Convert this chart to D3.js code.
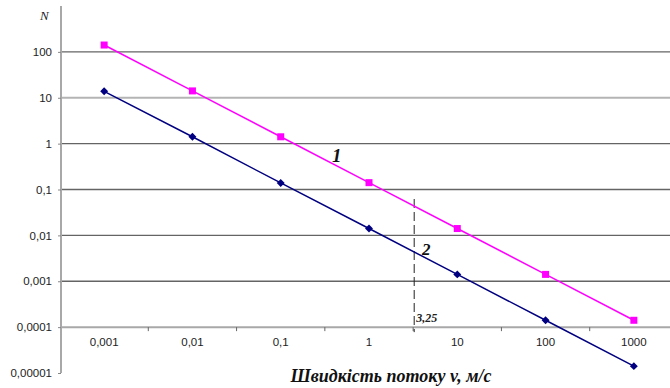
<!DOCTYPE html>
<html lang="uk">
<head>
<meta charset="utf-8">
<script src="https://cdnjs.cloudflare.com/ajax/libs/d3/7.8.5/d3.min.js"></script>
<style>
  body { margin: 0; background: #fff; }
</style>
</head>
<body>
<div id="chart"></div>
<script>
// categories of velocity v (m/s)
const speeds = ["0,001", "0,01", "0,1", "1", "10", "100", "1000"];
// curve 1 (magenta squares) and curve 2 (navy diamonds)
const series1 = [141, 14.1, 1.41, 0.141, 0.0141, 0.00141, 0.000141];
const series2 = [13.8, 1.41, 0.139, 0.0141, 0.00141, 0.000141, 0.0000141];
const yTicks = [1e-5, 1e-4, 1e-3, 1e-2, 0.1, 1, 10, 100];
const yLabels = ["0,00001", "0,0001", "0,001", "0,01", "0,1", "1", "10", "100"];
const criticalSpeed = 3.25;

const w = 670, h = 388;
const sans = "Arial, 'Liberation Sans', sans-serif";
const serif = "'Liberation Serif', 'Times New Roman', serif";

const svg = d3.select("#chart").append("svg")
  .attr("width", w).attr("height", h);

const x = d3.scaleBand().domain(speeds).range([60, 678]);
const y = d3.scaleLog().domain([1e-5, 1000]).range([373, 6]);
const cx = d => x(d) + x.bandwidth() / 2;

// gridlines
svg.append("g")
  .selectAll("line")
  .data(yTicks.filter(d => d > 1e-4))
  .enter().append("line")
  .attr("x1", 61).attr("x2", w)
  .attr("y1", d => y(d)).attr("y2", d => y(d))
  .attr("stroke", d => d === 10 ? "#b4b4b4" : "#646464")
  .attr("stroke-width", d => d === 10 ? 2 : 1.3);

// y axis
const yAxis = d3.axisLeft(y)
  .tickValues(yTicks)
  .tickFormat((d, i) => yLabels[i])
  .tickSize(3).tickPadding(6);
const gy = svg.append("g").attr("transform", "translate(61,0)").call(yAxis);
gy.select(".domain").attr("stroke", "#a8a8a8").attr("stroke-width", 2)
  .attr("d", "M0,6V373");
gy.selectAll(".tick line").attr("stroke", "#888");
gy.selectAll(".tick text")
  .style("font-family", sans).style("font-size", "11.5px").attr("fill", "#222");

// x axis crossing at 0.0001
const xAxis = d3.axisBottom(x).tickSize(0).tickPadding(11);
const gx = svg.append("g").attr("transform", `translate(0,${y(1e-4)})`).call(xAxis);
gx.select(".domain").attr("stroke", "#a8a8a8").attr("stroke-width", 2)
  .attr("d", `M61,0H${w}`);
gx.selectAll(".tick text")
  .style("font-family", sans).style("font-size", "11.5px").attr("fill", "#222");
gx.selectAll(".bound")
  .data(speeds.slice(1))
  .enter().append("line")
  .attr("class", "bound")
  .attr("x1", d => x(d)).attr("x2", d => x(d))
  .attr("y1", 0).attr("y2", 4)
  .attr("stroke", "#666");

// dashed line at critical speed
const lx = d3.scaleLog().domain([1, 10]).range([cx("1"), cx("10")]);
const xc = lx(criticalSpeed);
svg.append("line")
  .attr("x1", xc).attr("x2", xc)
  .attr("y1", 199).attr("y2", y(1e-4) + 5)
  .attr("stroke", "#222").attr("stroke-width", 1)
  .attr("stroke-dasharray", "9,4");
svg.append("text")
  .attr("x", xc + 2).attr("y", y(1e-4) - 5)
  .style("font-family", serif)
  .style("font-style", "italic").style("font-weight", "bold")
  .style("font-size", "12px").attr("fill", "#222")
  .text("3,25");

// lines
const line = vals => d3.line()
  .x((d, i) => cx(speeds[i]))
  .y(d => y(d))(vals);

svg.append("path").attr("d", line(series1))
  .attr("fill", "none").attr("stroke", "#ff00ff").attr("stroke-width", 1.5);
svg.append("path").attr("d", line(series2))
  .attr("fill", "none").attr("stroke", "#000080").attr("stroke-width", 1.5);

svg.selectAll(".sq")
  .data(series1)
  .enter().append("rect")
  .attr("class", "sq")
  .attr("x", (d, i) => cx(speeds[i]) - 3.5)
  .attr("y", d => y(d) - 3.5)
  .attr("width", 7).attr("height", 7)
  .attr("fill", "#ff00ff");

svg.selectAll(".dm")
  .data(series2)
  .enter().append("path")
  .attr("class", "dm")
  .attr("d", d3.symbol(d3.symbolDiamond2, 40))
  .attr("transform", (d, i) => `translate(${cx(speeds[i])},${y(d)})`)
  .attr("fill", "#000080");

// text labels
svg.append("text").attr("x", 40).attr("y", 20)
  .style("font-family", serif).style("font-style", "italic")
  .style("font-size", "13px").attr("fill", "#222").text("N");

svg.append("text").attr("x", 332).attr("y", 162)
  .style("font-family", serif).style("font-style", "italic").style("font-weight", "bold")
  .style("font-size", "19px").attr("fill", "#111").text("1");

svg.append("text").attr("x", 422).attr("y", 255)
  .style("font-family", serif).style("font-style", "italic").style("font-weight", "bold")
  .style("font-size", "17px").attr("fill", "#111").text("2");

svg.append("text").attr("x", 391).attr("y", 382)
  .attr("text-anchor", "middle")
  .style("font-family", serif).style("font-style", "italic").style("font-weight", "bold")
  .style("font-size", "18px").attr("fill", "#111")
  .text("Швидкість потоку v, м/с");
</script>
</body>
</html>
